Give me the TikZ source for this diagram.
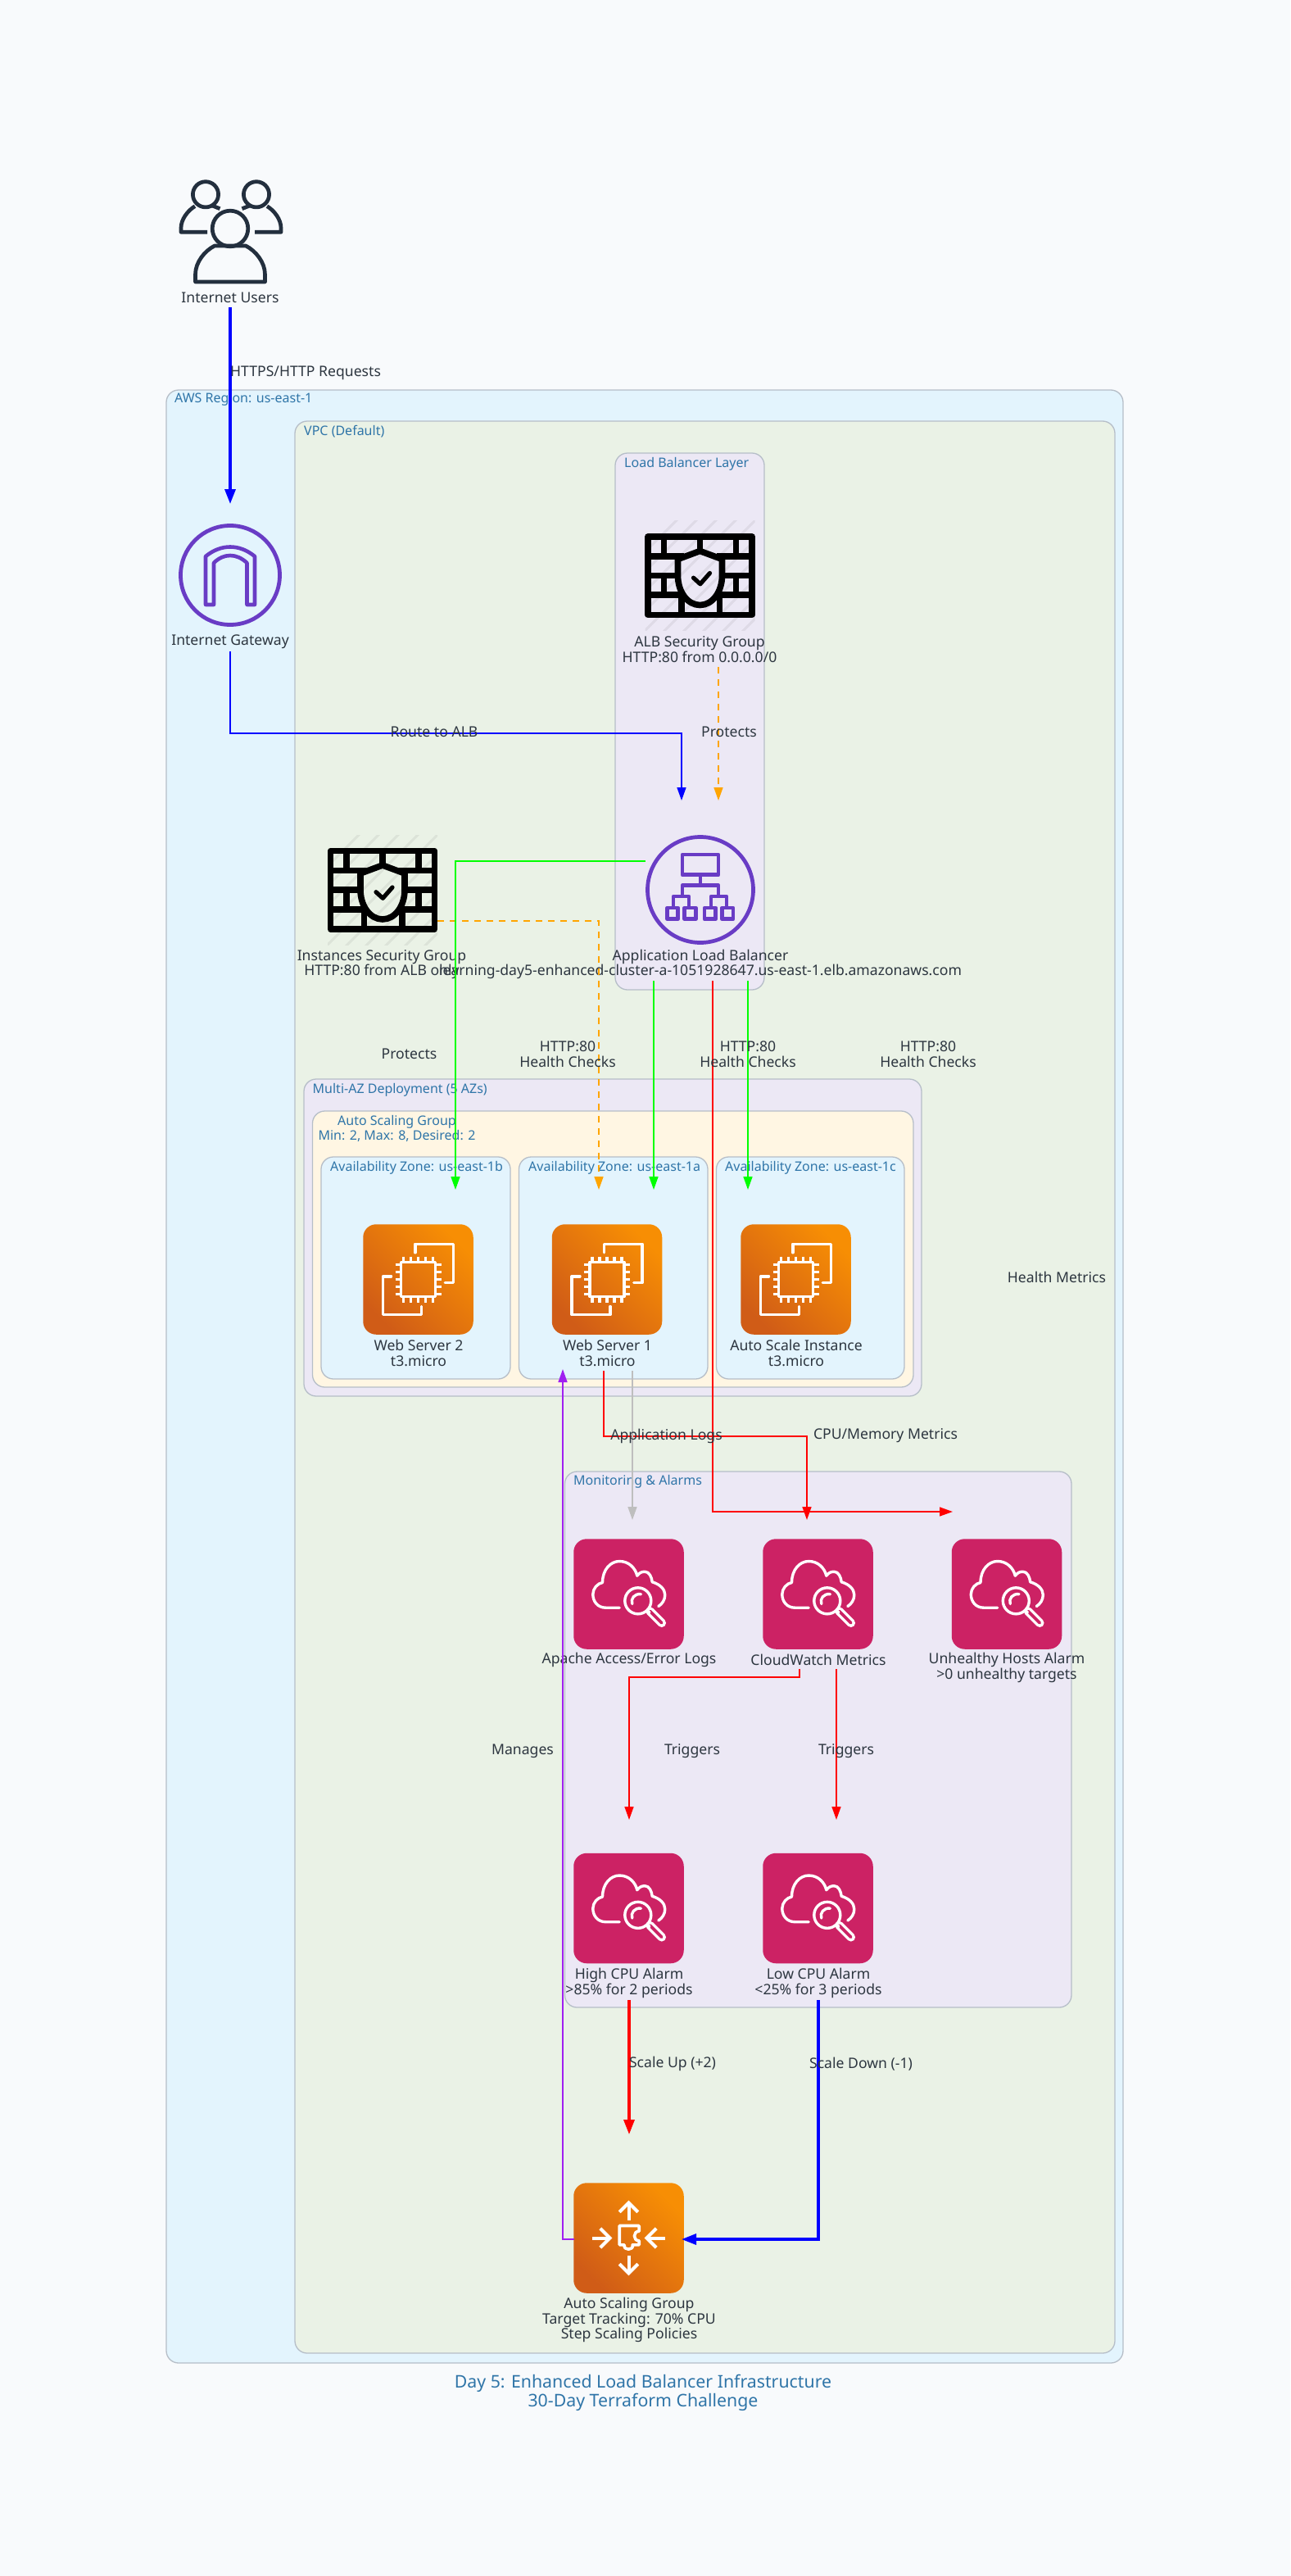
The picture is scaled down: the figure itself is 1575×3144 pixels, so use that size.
\documentclass[tikz,border=0pt]{standalone}
\usepackage{fontspec}
\setmainfont{Noto Sans}
\usetikzlibrary{arrows.meta,shadings}
\definecolor{pagebg}{HTML}{F8FAFC}
\definecolor{regionfill}{HTML}{E3F4FD}
\definecolor{vpcfill}{HTML}{EAF2E6}
\definecolor{layerfill}{HTML}{ECE8F5}
\definecolor{asgfill}{HTML}{FFF6E3}
\definecolor{groupline}{HTML}{B6BEC8}
\definecolor{grouptext}{HTML}{2F75A8}
\definecolor{labeltext}{HTML}{2D3640}
\definecolor{awsink}{HTML}{232F3E}
\definecolor{awspurple}{HTML}{693CC5}
\definecolor{awspink}{HTML}{CC2264}
\definecolor{awsdark}{HTML}{D05C17}
\definecolor{awslight}{HTML}{F78E04}
\definecolor{edgegreen}{HTML}{00FF00}
\definecolor{edgeorange}{HTML}{FFA500}
\definecolor{edgepurple}{HTML}{A020F0}
\definecolor{edgegray}{HTML}{BEBEBE}
\tikzset{
  groupbox/.style={draw=groupline,line width=1.3pt,rounded corners=15pt},
  grouplabel/.style={inner sep=0pt,text=grouptext,font=\fontsize{16}{17.5}\selectfont,align=center},
  nodelabel/.style={inner sep=0pt,text=labeltext,font=\fontsize{17.6}{18.6}\selectfont,align=center},
  edgelabel/.style={inner sep=0pt,text=labeltext,font=\fontsize{17.6}{18.6}\selectfont,align=center},
  titlelabel/.style={inner sep=0pt,text=grouptext,font=\fontsize{21.3}{23}\selectfont,align=center},
  orangetile/.style={inner sep=0pt,minimum size=134.5pt,rounded corners=16pt,shading=axis,bottom color=awsdark,top color=awslight,shading angle=-45},
  pinktile/.style={inner sep=0pt,minimum size=134.5pt,rounded corners=16pt,fill=awspink},
  iconspot/.style={inner sep=0pt,minimum size=134pt},
  glyph/.style={draw=white,line width=3.4pt,line join=round,line cap=round},
  thinedge/.style={line width=1.6pt,-{Triangle[length=16pt,width=11pt]}},
  thickedge/.style={line width=3.2pt,-{Triangle[length=18pt,width=13pt]}},
  dashedge/.style={line width=1.6pt,dash pattern=on 8pt off 7pt,edgeorange,-{Triangle[length=16pt,width=11pt]}},
  pics/gatewayglyph/.style={code={
    \draw[awspurple,line width=4.8pt] (0,0) circle (60.5);
    \draw[awspurple,line width=4.6pt,line join=round] (-30,36) -- (-30,-23) .. controls (-20,-31) and (-10,-34.5) .. (0,-34.5) .. controls (10,-34.5) and (20,-31) .. (30,-23) -- (30,36) -- (20.5,36) -- (20.5,-15) .. controls (14,-21) and (7,-24) .. (0,-24) .. controls (-7,-24) and (-14,-21) .. (-20,-15) -- (-20,36) -- cycle;
  }},
  pics/albglyph/.style={code={
    \begin{scope}[awspurple,line width=4.7pt,line join=round]
    \draw (0,0) circle (64.5);
    \draw (-22,-43) rectangle (22,-18.3);
    \draw (0,-18.3) -- (0,-5.3);
    \draw (-22,8) -- (-22,-5.3) -- (22,-5.3) -- (22,8);
    \draw (-33,20) -- (-33,8) -- (-14,8) -- (-14,20);
    \draw (13,20) -- (13,8) -- (32,8) -- (32,20);
    \draw (-40.3,22) rectangle (-27.3,35.7);
    \draw (-19.3,22) rectangle (-5.7,35.7);
    \draw (5,22) rectangle (18.7,35.7);
    \draw (26.3,22) rectangle (40,35.7);
    \end{scope}
  }},
  pics/firewallglyph/.style={code={
    \begin{scope}
      \clip (-67,-67) rectangle (67,67);
      \foreach \s in {-96,-72,-48,-24,0,24,48,72,96,120}
        \draw[black,opacity=0.06,line width=3pt] (\s-70,70) -- (\s+70,-70);
    \end{scope}
    \begin{scope}[black,line width=7.6pt]
      \draw[line join=round] (-63.5,-47.5) rectangle (63.5,48);
      \draw (-63.5,-23.5) -- (-20,-23.5);
      \draw (20,-23.5) -- (63.5,-23.5);
      \draw (-63.5,0) -- (-27,0);
      \draw (27,0) -- (63.5,0);
      \draw (-63.5,23.7) -- (-20,23.7);
      \draw (20,23.7) -- (63.5,23.7);
      \draw (-44,-47.5) -- (-44,-23.5);
      \draw (44,-47.5) -- (44,-23.5);
      \draw (0,-47.5) -- (0,-30);
      \draw (-44,0) -- (-44,23.7);
      \draw (44,0) -- (44,23.7);
      \draw (-22.5,23.7) -- (-22.5,48);
      \draw (24,23.7) -- (24,48);
      \draw[line join=round] (0,-30) -- (-27,-20) -- (-27,0) .. controls (-27,20) and (-15,36) .. (0,36) .. controls (15,36) and (27,20) .. (27,0) -- (27,-20) -- cycle;
      \draw[line width=5.2pt,line cap=round,line join=round] (-8,2.7) -- (0.3,10.3) -- (12,-3);
    \end{scope}
  }},
  pics/ec2glyph/.style={code={
    \draw[glyph] (-21,-21) rectangle (21,21);
    \foreach \p in {-18,-9,0,9,18} {
      \draw[glyph,line cap=butt] (\p,-28) -- (\p,-21);
      \draw[glyph,line cap=butt] (\p,28) -- (\p,21);
      \draw[glyph,line cap=butt] (-28,\p) -- (-21,\p);
      \draw[glyph,line cap=butt] (28,\p) -- (21,\p);
    }
    \draw[glyph] (-3.7,-32.7) -- (-3.7,-43.3) -- (43,-43.3) -- (43,4) -- (32.7,4);
    \draw[glyph] (-33,-3.7) -- (-43,-3.7) -- (-43,43) -- (4,43) -- (4,33);
  }},
  pics/watchglyph/.style={code={
    \draw[glyph] (-11.3,16.7) -- (-28,16.7) .. controls (-38,16.7) and (-43.7,9) .. (-43.7,0.3) .. controls (-43.7,-7) and (-38,-13) .. (-32,-14) .. controls (-32,-30) and (-22,-40) .. (-11.3,-40) .. controls (0,-40) and (8,-32) .. (10.3,-22.3) .. controls (13,-26) and (16,-27.3) .. (19.7,-27.3) .. controls (25,-27.3) and (28,-21) .. (28.7,-14.7) .. controls (38,-12) and (44.3,-6) .. (44.3,1) .. controls (44.3,7) and (41,12) .. (36.3,15);
    \draw[glyph] (11.3,8.3) circle (16);
    \draw[glyph] (4.3,12) .. controls (2,6) and (7,-1) .. (15,0.2);
    \draw[white,line width=10.5pt,line cap=round] (26,21) -- (40.3,35.3);
    \draw[awspink,line width=3.8pt,line cap=round] (26,21) -- (40.3,35.3);
    \draw[glyph] (23,20) -- (25.5,22.5);
  }},
  pics/scaleglyph/.style={code={
    \begin{scope}[white,line width=4pt,line join=miter]
      \draw (0,-21.7) -- (0,-43.3);
      \draw (-11.3,-31.7) -- (0,-43) -- (11.3,-31.7);
      \draw (0,21.7) -- (0,43.3);
      \draw (-11.3,31.7) -- (0,43) -- (11.3,31.7);
      \draw (-44.7,0) -- (-23,0);
      \draw (-34.7,-11.7) -- (-23,0) -- (-34.7,11.7);
      \draw (44.7,0) -- (22,0);
      \draw (33.7,-11.7) -- (22,0) -- (33.7,11.7);
      \draw[line width=3.6pt,line join=round] (-11.3,-15) -- (12.7,-15) -- (12.7,-8.3) .. controls (5,-8.5) and (5,3.5) .. (12.7,3.3) -- (12.7,8.3) -- (4.7,8.3) .. controls (6.5,15.5) and (-7,15.5) .. (-5.3,8.3) -- (-11.3,8.3) -- cycle;
    \end{scope}
  }},
}
\begin{document}
\begin{tikzpicture}[x=1pt,y=-1pt]
\useasboundingbox[fill=pagebg] (0,0) rectangle (1575,3144);

% groups
\draw[groupbox,fill=regionfill] (203,476) rectangle (1371,2884);
\draw[groupbox,fill=vpcfill] (360,514) rectangle (1361,2872);
\draw[groupbox,fill=layerfill] (751,553) rectangle (933,1208);
\draw[groupbox,fill=layerfill] (371,1317) rectangle (1125,1704);
\draw[groupbox,fill=asgfill] (381.5,1356) rectangle (1115,1693);
\draw[groupbox,fill=regionfill] (392,1412) rectangle (623,1683);
\draw[groupbox,fill=regionfill] (633.5,1412) rectangle (864,1683);
\draw[groupbox,fill=regionfill] (874.5,1412) rectangle (1104,1683);
\draw[groupbox,fill=layerfill] (689.5,1796) rectangle (1308,2450);

\node[grouplabel,anchor=west] (regionlabel) at (213,488) {AWS Region: us-east-1};
\node[grouplabel,anchor=west] (vpclabel) at (371,527) {VPC (Default)};
\node[grouplabel,anchor=west] (lblabel) at (762,566) {Load Balancer Layer};
\node[grouplabel,anchor=west] (multilabel) at (381.5,1330) {Multi-AZ Deployment (5 AZs)};
\node[grouplabel] (asglabel) at (484.5,1377.5) {Auto Scaling Group\\Min: 2, Max: 8, Desired: 2};
\node[grouplabel,anchor=west] (azblabel) at (403,1425) {Availability Zone: us-east-1b};
\node[grouplabel,anchor=west] (azalabel) at (645,1425) {Availability Zone: us-east-1a};
\node[grouplabel,anchor=west] (azclabel) at (885,1425) {Availability Zone: us-east-1c};
\node[grouplabel,anchor=west] (monlabel) at (700,1808) {Monitoring \& Alarms};

% users
\node[iconspot] (users) at (281,283) {};
\begin{scope}[awsink,line width=4.7pt,line join=round]
  \draw (251,237.3) circle (15.6);
  \draw (313,237.3) circle (15.6);
  \draw (253,283.3) -- (221,283.3) -- (221,278) .. controls (221,268) and (229,257) .. (238,251.7);
  \draw (258,250.6) -- (268.5,254.7);
  \draw (311,283.3) -- (343,283.3) -- (343,278) .. controls (343,268) and (335,257) .. (326,251.7);
  \draw (306,250.6) -- (295.5,254.7);
  \draw (281,279) circle (21.8);
  \draw (238.5,344) -- (238.5,335) .. controls (238.5,320) and (250,306) .. (262,300) -- (300,300) .. controls (312,306) and (323.5,320) .. (323.5,335) -- (323.5,344) -- cycle;
\end{scope}

% icons
\node[iconspot] (gateway) at (281,702) {};
\pic at (gateway) {gatewayglyph};
\node[iconspot] (albsg) at (854.5,702.5) {};
\pic at (albsg) {firewallglyph};
\node[iconspot] (alb) at (855,1086) {};
\pic at (alb) {albglyph};
\node[iconspot] (instsg) at (467,1086) {};
\pic at (instsg) {firewallglyph};
\node[orangetile] (web2) at (510.5,1561.5) {};
\pic at (web2) {ec2glyph};
\node[orangetile] (web1) at (741,1561.5) {};
\pic at (web1) {ec2glyph};
\node[orangetile] (auto3) at (971.5,1561.5) {};
\pic at (auto3) {ec2glyph};
\node[pinktile] (logs) at (767.5,1945.5) {};
\pic at (logs) {watchglyph};
\node[pinktile] (metrics) at (998.5,1945.5) {};
\pic at (metrics) {watchglyph};
\node[pinktile] (unhealthy) at (1229,1945.5) {};
\pic at (unhealthy) {watchglyph};
\node[pinktile] (highcpu) at (767.5,2329) {};
\pic at (highcpu) {watchglyph};
\node[pinktile] (lowcpu) at (998.5,2329) {};
\pic at (lowcpu) {watchglyph};
\node[orangetile] (asg) at (767.5,2731.5) {};
\pic at (asg) {scaleglyph};

% node labels
\node[nodelabel] (userslabel) at (281,363) {Internet Users};
\node[nodelabel] (gatewaylabel) at (281,783) {Internet Gateway};
\node[nodelabel] (albsglabel) at (854,792.5) {ALB Security Group\\HTTP:80 from 0.0.0.0/0};
\node[nodelabel] (instsglabel) at (466,1177) {Instances Security Group\\HTTP:80 from ALB only};
\node[nodelabel] (alblabel) at (855,1177) {Application Load Balancer\\learning-day5-enhanced-cluster-a-1051928647.us-east-1.elb.amazonaws.com};
\node[nodelabel] (web2label) at (511,1651.5) {Web Server 2\\t3.micro};
\node[nodelabel] (web1label) at (741.5,1651.5) {Web Server 1\\t3.micro};
\node[nodelabel] (auto3label) at (972,1651.5) {Auto Scale Instance\\t3.micro};
\node[nodelabel] (logslabel) at (768,2026) {Apache Access/Error Logs};
\node[nodelabel] (metricslabel) at (999,2026) {CloudWatch Metrics};
\node[nodelabel] (unhealthylabel) at (1229,2035.5) {Unhealthy Hosts Alarm\\>0 unhealthy targets};
\node[nodelabel] (highlabel) at (768,2420.5) {High CPU Alarm\\>85\% for 2 periods};
\node[nodelabel] (lowlabel) at (999,2420.5) {Low CPU Alarm\\<25\% for 3 periods};
\node[nodelabel] (asgtext) at (768,2831.5) {Auto Scaling Group\\Target Tracking: 70\% CPU\\Step Scaling Policies};
\node[titlelabel] (title) at (785,2920.5) {Day 5: Enhanced Load Balancer Infrastructure\\30-Day Terraform Challenge};

% connector ends
\coordinate (uA) at (281,375);  \coordinate (gwIn) at (281,615);
\coordinate (gwOut) at (281,795); \coordinate (albInA) at (832,977);
\coordinate (sgOut) at (877,814); \coordinate (albInB) at (877,977);
\coordinate (instOut) at (534,1124); \coordinate (web1InA) at (731,1452);
\coordinate (albL) at (788,1051); \coordinate (web2In) at (556,1452);
\coordinate (albB1) at (798,1197); \coordinate (web1InB) at (798,1452);
\coordinate (albB2) at (913,1197); \coordinate (autoIn) at (913,1452);
\coordinate (albB3) at (870,1197); \coordinate (unhIn) at (1163,1845);
\coordinate (webR) at (737,1673); \coordinate (metIn) at (985,1855);
\coordinate (webG) at (772,1673); \coordinate (logIn) at (772,1855);
\coordinate (metA) at (976,2037); \coordinate (highIn) at (768,2221);
\coordinate (metB) at (1021,2037); \coordinate (lowIn) at (1021,2221);
\coordinate (highOut) at (768,2441); \coordinate (asgInA) at (768,2605);
\coordinate (lowOut) at (999,2441); \coordinate (asgInB) at (832,2733);
\coordinate (asgL) at (701,2733); \coordinate (web1InC) at (687,1671);

% connectors
\draw[thickedge,blue] (uA) -- (gwIn);
\draw[thinedge,blue] (gwOut) |- (632,895) -| (albInA);
\draw[dashedge] (sgOut) -- (albInB);
\draw[dashedge] (instOut) -| (web1InA);
\draw[thinedge,edgegreen] (albL) -| (web2In);
\draw[thinedge,edgegreen] (albB1) -- (web1InB);
\draw[thinedge,edgegreen] (albB2) -- (autoIn);
\draw[thinedge,red] (albB3) |- (unhIn);
\draw[thinedge,red] (webR) |- (860,1753) -| (metIn);
\draw[thinedge,edgegray] (webG) -- (logIn);
\draw[thinedge,red] (metA) |- (872,2047) -| (highIn);
\draw[thinedge,red] (metB) -- (lowIn);
\draw[thickedge,red] (highOut) -- (asgInA);
\draw[thickedge,blue] (lowOut) |- (asgInB);
\draw[thinedge,edgepurple] (asgL) -| (web1InC);

% edge labels
\node[edgelabel,anchor=west] (e1) at (281,455.5) {HTTPS/HTTP Requests};
\node[edgelabel] (e2) at (530,893) {Route to ALB};
\node[edgelabel] (e3) at (890,893) {Protects};
\node[edgelabel] (e4) at (499.5,1286) {Protects};
\node[edgelabel] (e5) at (693,1286.5) {HTTP:80\\Health Checks};
\node[edgelabel] (e6) at (913,1286.5) {HTTP:80\\Health Checks};
\node[edgelabel] (e7) at (1133,1286.5) {HTTP:80\\Health Checks};
\node[edgelabel] (e8) at (1290,1559) {Health Metrics};
\node[edgelabel] (e9) at (813.5,1752.5) {Application Logs};
\node[edgelabel] (e10) at (1081,1752.5) {CPU/Memory Metrics};
\node[edgelabel] (e11) at (638,2137) {Manages};
\node[edgelabel] (e12) at (845,2137) {Triggers};
\node[edgelabel] (e13) at (1033,2137) {Triggers};
\node[edgelabel] (e14) at (821,2519) {Scale Up (+2)};
\node[edgelabel] (e15) at (1051,2519) {Scale Down (-1)};
\end{tikzpicture}
\end{document}
